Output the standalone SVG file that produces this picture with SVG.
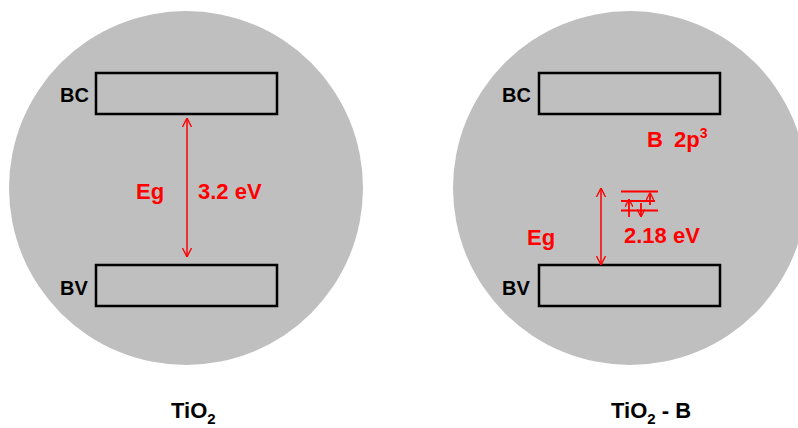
<svg xmlns="http://www.w3.org/2000/svg" width="798" height="428" viewBox="0 0 798 428">
<style>
.disc{fill:#bfbfbf;stroke:none}
.band{fill:none;stroke:#000;stroke-width:2.5}
.lbl{font-family:"Liberation Sans",Arial,sans-serif;font-weight:bold;font-size:20px;fill:#000}
.red{font-family:"Liberation Sans",Arial,sans-serif;font-weight:bold;font-size:22px;fill:#ff0000}
.title{font-family:"Liberation Sans",Arial,sans-serif;font-weight:bold;font-size:22px;fill:#000}
.arr{stroke:#ff0000;stroke-width:1.5;fill:none}
.lvl{stroke:#ff0000;stroke-width:1.8;fill:none}
</style>
<defs>
<marker id="ah" viewBox="0 0 10 10" refX="10" refY="5" markerWidth="9" markerHeight="10" orient="auto-start-reverse" markerUnits="userSpaceOnUse">
<path d="M0,0 L10,5 L0,10" fill="none" stroke="#ff0000" stroke-width="1.5"/>
</marker>
<marker id="ahs" viewBox="0 0 10 10" refX="10" refY="5" markerWidth="8" markerHeight="8" orient="auto-start-reverse" markerUnits="userSpaceOnUse">
<path d="M0,0 L10,5 L0,10" fill="none" stroke="#ff0000" stroke-width="1.6"/>
</marker>
</defs>
<g id="tio2">
<circle class="disc" cx="186" cy="188" r="177"/>
<rect id="bc1" class="band" x="96" y="73" width="181" height="41"/>
<rect id="bv1" class="band" x="96" y="265" width="181" height="41"/>
<text class="lbl" x="60" y="102">BC</text>
<text class="lbl" x="60" y="295">BV</text>
<text class="red" x="136" y="199" font-size="21">Eg</text>
<text class="red" x="198" y="199">3.2 eV</text>
<text class="title" x="171" y="418">TiO<tspan font-size="15" dy="6">2</tspan></text>
</g>
<g id="tio2b">
<circle class="disc" cx="630" cy="188" r="177"/>
<rect id="bc2" class="band" x="539" y="73" width="181" height="41"/>
<rect id="bv2" class="band" x="539" y="265" width="181" height="41"/>
<text class="lbl" x="502" y="102">BC</text>
<text class="lbl" x="502" y="295">BV</text>
<text class="red" x="647" y="147" font-size="21">B<tspan x="674">2p</tspan><tspan font-size="14" dy="-9">3</tspan></text>
<text class="red" x="527" y="245" font-size="21">Eg</text>
<text class="red" x="624" y="243">2.18 eV</text>
<text class="title" x="611" y="418">TiO<tspan font-size="15" dy="6">2</tspan><tspan dy="-6"> - B</tspan></text>
<g id="levels">
<line class="lvl" x1="621" y1="191.5" x2="658" y2="191.5"/>
<line class="lvl" x1="621" y1="201" x2="655" y2="201"/>
<line class="lvl" x1="621" y1="210.5" x2="658" y2="210.5"/>
</g>
</g>
<g id="connectors">
<line class="arr" x1="187" y1="118" x2="187" y2="257" marker-start="url(#ah)" marker-end="url(#ah)"/>
<line class="arr" x1="601" y1="188" x2="601" y2="265" marker-start="url(#ah)" marker-end="url(#ah)"/>
<line class="lvl" x1="629" y1="217" x2="629" y2="199" marker-end="url(#ahs)"/>
<line class="lvl" x1="641" y1="203" x2="641" y2="217" marker-end="url(#ahs)"/>
<line class="lvl" x1="650" y1="205" x2="650" y2="192.5" marker-end="url(#ahs)"/>
</g>
</svg>
